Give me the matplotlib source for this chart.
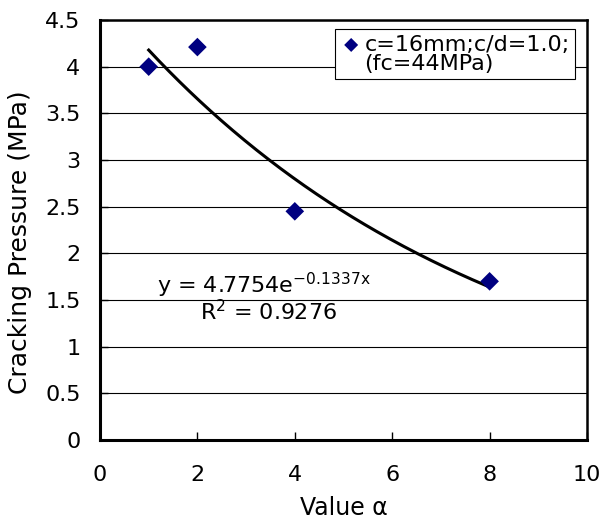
import numpy as np
import matplotlib
matplotlib.use("Agg")
import matplotlib.pyplot as plt
from matplotlib.lines import Line2D

plt.rcParams['font.family'] = ['DejaVu Sans']
plt.rcParams['mathtext.fontset'] = 'custom'
plt.rcParams['mathtext.rm'] = 'DejaVu Sans'

# Data
alpha = [1, 2, 4, 8]
pressure = [4.0, 4.21, 2.45, 1.70]
series_label_lines = ["c=16mm;c/d=1.0;", "(fc=44MPa)"]

# Exponential trendline coefficients (as displayed)
fit_a = 4.7754
fit_b = -0.1337
fit_r2 = 0.9276

x_ticks = [0, 2, 4, 6, 8, 10]
y_ticks = [0, 0.5, 1, 1.5, 2, 2.5, 3, 3.5, 4, 4.5]
y_ticklabels = ["0", "0.5", "1", "1.5", "2", "2.5", "3", "3.5", "4", "4.5"]

fig = plt.figure(figsize=(6.04, 5.19), dpi=100)
ax = fig.add_axes([100/604, 79/519, 487/604, 420/519])

ax.set_xlim(0, 10)
ax.set_ylim(0, 4.5)
ax.set_yticks(y_ticks)
ax.set_yticklabels(y_ticklabels)
ax.set_xticks(x_ticks)
ax.yaxis.grid(True, color='black', linewidth=0.8)
ax.set_axisbelow(True)

for s in ['left', 'bottom']:
    ax.spines[s].set_linewidth(2.2)
for s in ['top', 'right']:
    ax.spines[s].set_linewidth(1.8)

ax.tick_params(axis='both', direction='in', length=6, width=1.0, labelsize=16)
ax.tick_params(axis='y', pad=14)
ax.tick_params(axis='x', pad=18)

# trendline
xf = np.linspace(min(alpha), max(alpha), 200)
yf = fit_a * np.exp(fit_b * xf)
ax.plot(xf, yf, color='black', linewidth=2.2, zorder=3)

sc = ax.scatter(alpha, pressure, marker='D', s=90, color='#000080', zorder=4,
                edgecolors='none')

ax.text(1.18, 1.575, r"y = 4.7754e$^{\mathrm{-0.1337x}}$", fontsize=16, ha='left', va='baseline')
ax.text(2.05, 1.28, r"R$^{\mathrm{2}}$ = %.4f" % fit_r2, fontsize=16, ha='left', va='baseline')

blank = Line2D([], [], linestyle='none', marker=None)
leg = ax.legend(handles=[sc, blank], labels=series_label_lines,
                loc='upper right', bbox_to_anchor=(0.976, 0.978), fontsize=16,
                frameon=True, fancybox=False, edgecolor='black', framealpha=1,
                handletextpad=0.1, borderpad=0.25, handlelength=1.0, markerscale=0.75,
                labelspacing=-0.05, borderaxespad=0)
leg.get_frame().set_linewidth(0.8)

ax.set_xlabel("Value α", fontsize=17, labelpad=8)
ax.set_ylabel("Cracking Pressure (MPa)", fontsize=18)
ax.yaxis.set_label_coords(-0.14, 0.471)

fig.savefig("out.png", dpi=100)
